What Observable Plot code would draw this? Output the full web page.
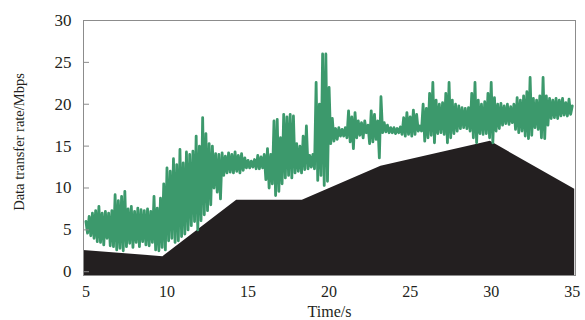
<!DOCTYPE html>
<html>
<head>
<meta charset="utf-8">
<script src="https://cdn.jsdelivr.net/npm/d3@7"></script>
<script src="https://cdn.jsdelivr.net/npm/@observablehq/plot@0.6"></script>
<style>
  html, body { margin: 0; padding: 0; background: #fff; }
</style>
</head>
<body>
<div id="chart"></div>
<script>
// Tick labels
const xTicks = [5, 10, 15, 20, 25, 30, 35];
const yTicks = [0, 5, 10, 15, 20, 25, 30];

// Black area (available bandwidth)
const areaTime = [4.85, 9.75, 14.3, 18.35, 23.2, 29.95, 35.15];
const areaRate = [2.55, 1.8, 8.55, 8.55, 12.6, 15.57, 9.85];

// Green series: data transfer rate, sampled every 0.1 s starting at 5 s
const rateStart = 5;
const rateStep = 0.1;
const rate = [
  6.0, 4.6, 6.6, 4.3, 7.0, 4.0, 7.3, 3.6, 7.8, 3.5,
  7.0, 3.2, 7.2, 4.0, 7.0, 3.1, 7.3, 3.0, 9.2, 2.6,
  8.5, 2.8, 9.0, 2.5, 9.6, 3.0, 7.5, 3.4, 7.8, 2.9,
  7.2, 3.5, 7.6, 3.0, 7.4, 3.6, 7.3, 3.2, 7.5, 3.1,
  7.2, 3.5, 9.0, 2.6, 7.6, 2.5, 8.8, 2.9, 10.5, 2.6,
  12.4, 3.7, 12.0, 4.0, 13.5, 3.5, 12.8, 3.7, 14.6, 4.2,
  13.0, 4.5, 14.3, 5.0, 14.0, 5.5, 14.4, 6.0, 16.2, 5.0,
  15.0, 6.1, 18.4, 6.8, 16.5, 7.3, 15.3, 8.0, 15.0, 10.0,
  14.1, 9.5, 14.0, 8.7, 14.2, 11.5, 13.8, 11.8, 14.2, 11.9,
  14.0, 11.8, 14.3, 12.0, 13.9, 11.8, 14.1, 12.1, 13.6, 12.4,
  13.3, 12.4, 13.2, 12.5, 13.4, 12.3, 13.9, 12.3, 13.7, 12.4,
  14.0, 11.0, 14.7, 10.0, 14.0, 10.5, 18.0, 9.1, 18.2, 9.6,
  16.0, 10.5, 18.8, 11.2, 18.5, 11.5, 18.8, 11.2, 18.6, 11.8,
  15.3, 12.0, 15.0, 11.8, 16.2, 12.2, 17.4, 12.3, 13.9, 12.5,
  14.0, 12.3, 22.6, 10.9, 20.0, 11.5, 26.0, 10.3, 26.0, 10.8,
  22.0, 15.3, 18.3, 15.6, 17.1, 15.8, 17.2, 16.2, 17.0, 16.2,
  17.2, 16.0, 19.2, 15.5, 18.5, 14.7, 19.0, 16.0, 18.0, 16.3,
  17.8, 16.0, 18.0, 16.6, 17.5, 15.3, 19.2, 15.5, 18.8, 15.8,
  18.0, 13.6, 20.9, 16.6, 17.8, 16.7, 17.5, 16.6, 17.2, 16.6,
  17.2, 16.5, 17.1, 16.6, 17.3, 16.4, 18.4, 16.2, 19.0, 16.4,
  18.5, 16.2, 19.3, 16.4, 18.8, 16.8, 17.4, 16.8, 20.0, 15.6,
  19.5, 16.0, 21.3, 16.3, 22.6, 15.4, 20.5, 16.5, 20.0, 16.6,
  20.2, 16.4, 21.3, 15.4, 22.6, 16.0, 20.5, 16.5, 20.0, 16.8,
  19.8, 17.1, 19.6, 17.2, 19.5, 17.1, 19.6, 16.8, 21.3, 16.0,
  22.6, 15.4, 20.5, 16.5, 20.0, 16.4, 20.3, 16.5, 21.3, 16.0,
  22.6, 15.4, 20.8, 16.8, 20.0, 17.1, 20.1, 17.5, 19.8, 17.7,
  20.0, 17.6, 19.7, 17.8, 20.0, 17.0, 20.8, 16.6, 20.5, 16.8,
  21.0, 16.2, 21.5, 15.9, 23.2, 16.3, 20.7, 17.2, 20.5, 17.0,
  21.0, 16.0, 23.2, 15.9, 21.0, 17.5, 20.7, 18.3, 20.5, 18.4,
  20.7, 18.3, 20.5, 18.6, 20.7, 18.7, 20.2, 18.6, 20.6, 18.8,
  19.8
];

const areaData = areaTime.map((t, i) => ({t, v: areaRate[i]}));
const rateData = rate.map((v, i) => ({t: rateStart + i * rateStep, v}));

const yMin = -0.45;
const axisGray = "#8c8c8c";
const ink = "#231f20";
const font = "'Liberation Serif', 'Times New Roman', serif";

const chart = Plot.plot({
  width: 585,
  height: 320,
  marginLeft: 83,
  marginRight: 10,
  marginTop: 20,
  marginBottom: 45,
  style: {fontFamily: font, fontSize: "17px", background: "#fff", color: ink},
  x: {domain: [4.85, 35.2], label: null},
  y: {domain: [yMin, 30], label: null},
  marks: [
    Plot.areaY(areaData, {x: "t", y1: yMin, y2: "v", fill: ink}),
    Plot.line(rateData, {x: "t", y: "v", stroke: "#3c996c", strokeWidth: 2.8, strokeLinejoin: "round"}),
    Plot.frame({stroke: axisGray}),
    Plot.axisY(yTicks, {tickSize: -6, tickPadding: 18, stroke: axisGray, fill: ink, label: null, fontSize: 17, fontFamily: font}),
    Plot.axisX(xTicks, {tickSize: 0, tickPadding: 10, fill: ink, label: null, fontSize: 16, fontFamily: font}),
    Plot.text(["Data transfer rate/Mbps"], {frameAnchor: "left", textAnchor: "middle", lineAnchor: "middle", dx: -64, dy: -6, rotate: -90, fontSize: 14.5, fontFamily: font, fill: ink}),
    Plot.text(["Time/s"], {frameAnchor: "bottom", textAnchor: "middle", lineAnchor: "middle", dy: 36.5, fontSize: 16, fontFamily: font, fill: ink})
  ]
});
document.getElementById("chart").appendChild(chart);
</script>
</body>
</html>
